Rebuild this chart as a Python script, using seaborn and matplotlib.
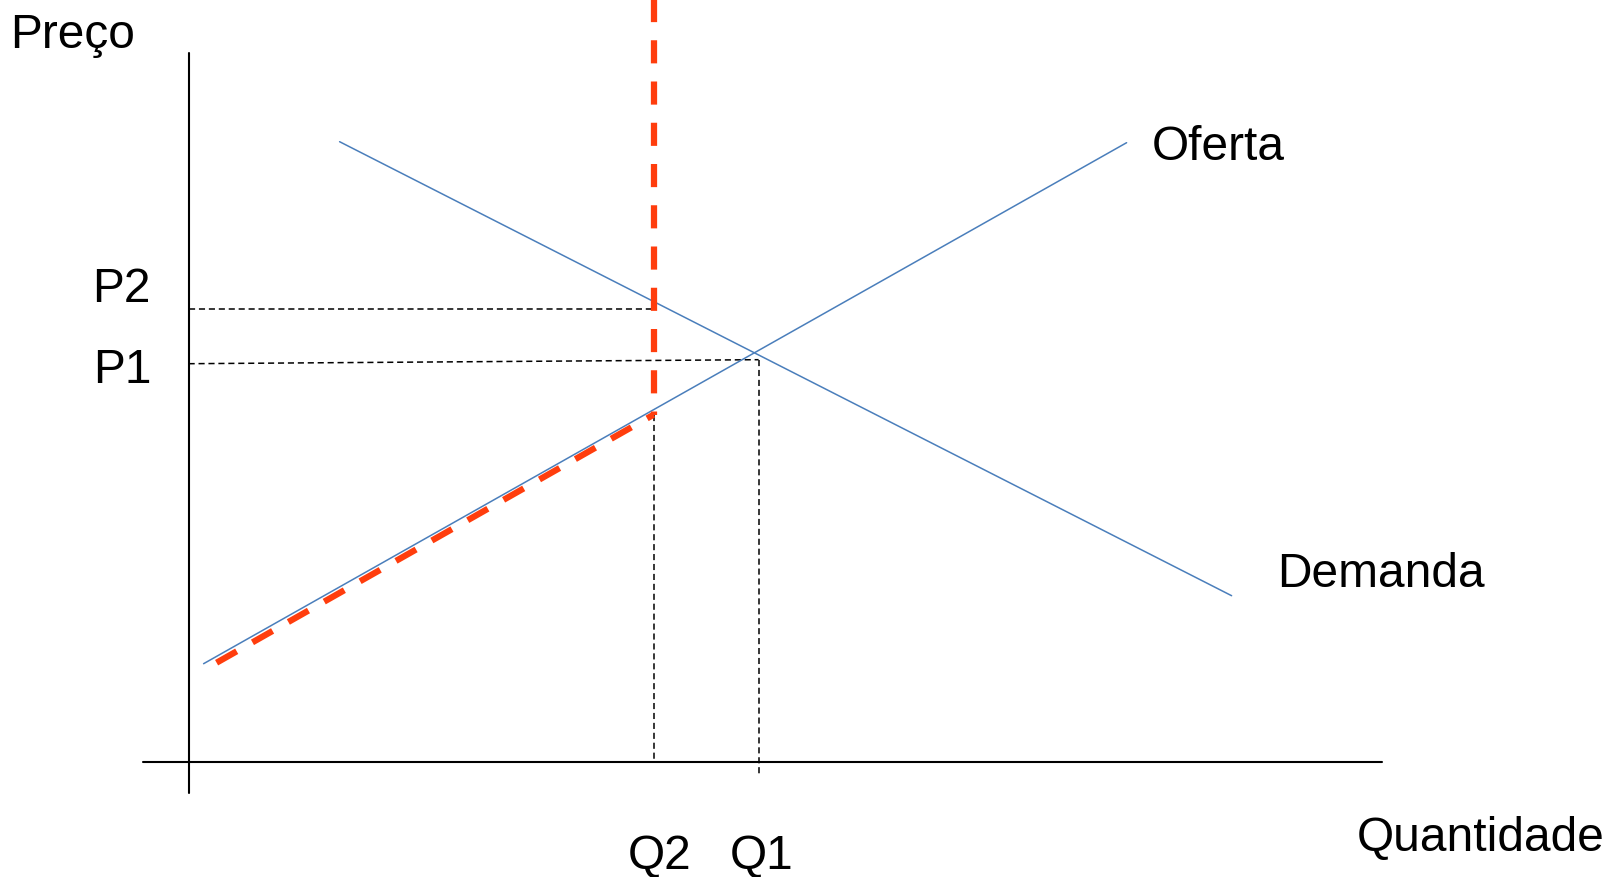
import matplotlib
matplotlib.use("Agg")
import matplotlib.pyplot as plt
import seaborn as sns

sns.set_style("white")
plt.rcParams['font.family'] = ['Liberation Sans', 'DejaVu Sans']

# curves (quantity, price) in arbitrary units, origin at the axes corner
supply_q = [1.5, 93.8]
supply_p = [9.8, 61.9]
demand_q = [15.1, 104.3]
demand_p = [62.0, 16.6]

# equilibrium and price-ceiling / quota values
q1 = 57.0
p1_line = [39.8, 40.2]    # P1 guide is drawn slightly tilted
q2, p2 = 46.5, 45.3
quota_top = 76.3          # red line reaches the top of the picture
quota_low = 34.7          # where the red vertical meets the supply curve
red_slope_q = [2.8, 46.5]
red_slope_p = [9.9, 34.7]

# axis extents
xaxis_q = [-4.56, 119.3]
yaxis_p = [-3.09, 70.9]
q1_bottom = -1.5

blue = "#4A7EBB"
red = "#FF3D0D"

fig = plt.figure(figsize=(16.16, 8.78), dpi=100)
ax = fig.add_axes([0, 0, 1, 1])
ax.set_xlim(-18.86, 142.74)
ax.set_ylim(-11.53, 76.27)
ax.axis("off")


def line(x, y, **kw):
    sns.lineplot(x=x, y=y, ax=ax, estimator=None, sort=False, legend=False, **kw)


# axes
line([0, 0], yaxis_p, color="black", lw=1.5)
line(xaxis_q, [0, 0], color="black", lw=1.5)

# guide lines
dash_k = dict(color="black", lw=1.1, linestyle=(0, (4, 2.5)))
line([0, q2], [p2, p2], **dash_k)
line([0, q1], p1_line, **dash_k)
line([q1, q1], [p1_line[1], q1_bottom], **dash_k)
line([q2, q2], [quota_low, 0], **dash_k)

# supply and demand
line(supply_q, supply_p, color=blue, lw=1.1)
line(demand_q, demand_p, color=blue, lw=1.1)

# quota (red dashed)
red_k = dict(color=red, lw=4.5, linestyle=(0, (3.7, 2.9)))
line([q2, q2], [quota_top, quota_low], **red_k)
line(red_slope_q, red_slope_p, **red_k)

fs = 34.5
txt = dict(fontsize=fs, va="baseline", ha="left", color="black")
ax.text(-17.87, 71.47, "Preço", **txt)
ax.text(96.3, 60.27, "Oferta", **txt)
ax.text(108.9, 17.6, "Demanda", **txt)
ax.text(-9.69, 46.07, "P2", **txt)
ax.text(-9.5, 37.93, "P1", **txt)
ax.text(43.9, -10.6, "Q2", **txt)
ax.text(54.14, -10.6, "Q1", **txt)
ax.text(116.8, -8.8, "Quantidade", **txt)

fig.savefig("out.png", dpi=100)
